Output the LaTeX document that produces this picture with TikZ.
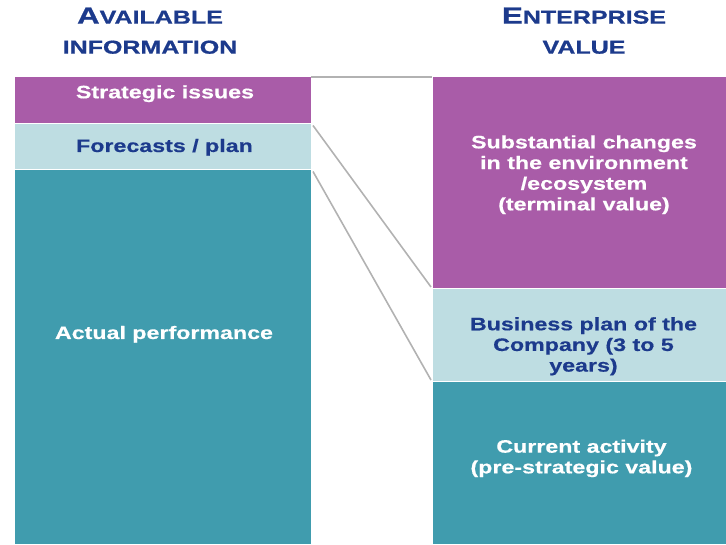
\documentclass[tikz,border=0pt]{standalone}
\usepackage{fontspec}
\setmainfont{Liberation Sans}
\newfontfamily\widefont[FakeStretch=1.29,FakeBold=0.5]{Liberation Sans}
\newfontfamily\titlefont[FakeStretch=1.34,FakeBold=1]{Liberation Sans}
\definecolor{vpurple}{HTML}{A95CA8}
\definecolor{vlight}{HTML}{BEDDE2}
\definecolor{vteal}{HTML}{409CAE}
\definecolor{vnavy}{HTML}{1C3A8C}
\definecolor{vgray}{HTML}{B2B2B2}
\newcommand{\ttlcap}[1]{{\fontsize{17.5}{22.5}\selectfont #1}}
\begin{document}
\begin{tikzpicture}[x=0.75pt,y=-0.75pt,
  box/.style={draw=white,line width=0.75pt,inner sep=0pt,outer sep=0pt,anchor=north west},
  lbox/.style={box,minimum width=297*0.75pt},
  rbox/.style={box,minimum width=294*0.75pt},
  ttl/.style={inner sep=0pt,align=center,text=vnavy,font=\titlefont\bfseries\fontsize{14}{22.5}\selectfont},
  txt/.style={inner sep=0pt,align=center,font=\widefont\bfseries\fontsize{13.5}{15.5}\selectfont},
  wtxt/.style={txt,text=white},
  ntxt/.style={txt,text=vnavy},
  conn/.style={draw=vgray,line width=1.2pt}]
\useasboundingbox (0,0) rectangle (726,545);
% left column
\node[lbox,fill=vpurple,minimum height=46.5*0.75pt] (si) at (14,77) {};
\node[lbox,fill=vlight,minimum height=46*0.75pt] (fc) at (14,123.5) {};
\node[lbox,fill=vteal,minimum height=375.5*0.75pt] (ap) at (14,169.5) {};
% right column
\node[rbox,fill=vpurple,minimum height=211.5*0.75pt] (sc) at (432,77) {};
\node[rbox,fill=vlight,minimum height=93*0.75pt] (bp) at (432,288.5) {};
\node[rbox,fill=vteal,minimum height=163.5*0.75pt] (ca) at (432,381.5) {};
% connectors
\draw[conn] (si.north east) -- (sc.north west);
\draw[conn] ([shift={(2,2)}]fc.north east) -- ([shift={(-1,-1.5)}]bp.north west);
\draw[conn] ([shift={(2,2)}]ap.north east) -- ([shift={(-1,-1.5)}]ca.north west);
% titles
\node[ttl] (t1) at (150,30.7) {\ttlcap{A}VAILABLE\\INFORMATION};
\node[ttl] (t2) at (584,30.7) {\ttlcap{E}NTERPRISE\\VALUE};
% texts
\node[wtxt,anchor=base] (tsi) at (165,98.3) {Strategic issues};
\node[ntxt,anchor=base] (tfc) at (164.5,152) {Forecasts / plan};
\node[wtxt,anchor=base] (tap) at (164,339) {Actual performance};
\node[wtxt] (tsc) at (584,174.7) {Substantial changes\\in the environment\\/ecosystem\\(terminal value)};
\node[ntxt] (tbp) at (583.5,346.3) {Business plan of the\\Company (3 to 5\\years)};
\node[wtxt] (tca) at (581.5,458.4) {Current activity\\(pre-strategic value)};
\end{tikzpicture}
\end{document}
